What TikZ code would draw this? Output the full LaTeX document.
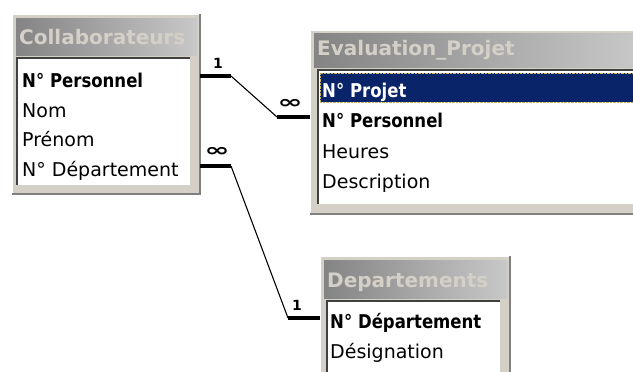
\documentclass[tikz,border=0pt]{standalone}
\usepackage{fontspec}
\setmainfont{DejaVu Sans}[BoldFeatures={FakeStretch=0.87}]
\newfontfamily\titlefam{DejaVu Sans Bold}
\usetikzlibrary{calc}
\definecolor{winface}{HTML}{D4D0C8}
\definecolor{winshadow}{HTML}{808080}
\definecolor{windark}{HTML}{404040}
\definecolor{tbleft}{HTML}{848484}
\definecolor{tbright}{HTML}{C8C8C8}
\definecolor{selnavy}{HTML}{0A246A}
\definecolor{focusyel}{HTML}{C8B464}
\begin{document}
\begin{tikzpicture}[x=1pt,y=-1pt,
  frame/.style={fill=winface, inner sep=0, anchor=north west, outer sep=0},
  titlebar/.style={left color=tbleft, right color=tbright, inner sep=0, anchor=north west, outer sep=0},
  listbox/.style={fill=white, inner sep=0, anchor=north west, outer sep=0},
  titletext/.style={text=winface, font=\fontsize{20}{24}\selectfont\titlefam, inner sep=0, anchor=base west},
  field/.style={text=black, font=\fontsize{19}{22}\selectfont, inner sep=0, anchor=base west},
  keyfield/.style={field, font=\fontsize{19}{22}\selectfont\bfseries},
  hilite/.style={fill=selnavy, draw=focusyel, densely dotted, inner sep=0, anchor=north west, outer sep=0},
  thickend/.style={line width=3.5pt},
  thinlink/.style={line width=1.1pt},
  cardone/.style={font=\fontsize{14}{16}\selectfont\titlefam, inner sep=0},
  cardmany/.style={font=\fontsize{20}{22}\selectfont\titlefam, inner sep=0},
  hiedge/.style={white, line width=1.5pt},
  loedge/.style={winshadow, line width=1.5pt},
  inset/.style={windark, line width=1.2pt}
]
\useasboundingbox (0,0) rectangle (633,372);
\clip (0,0) rectangle (633,372);

% ---------- Collaborateurs ----------
\node[frame, minimum width=188pt, minimum height=180pt] (collab) at (12,14) {};
\draw[hiedge] (collab.south west) -- (collab.north west) -- (collab.north east);
\draw[loedge] (collab.north east) -- (collab.south east) -- (collab.south west);
\node[titlebar, minimum width=181pt, minimum height=37pt] (collabtb) at (16,18) {};
\node[titletext] (collabtitle) at (19,45) {Collaborateurs};
\node[listbox, minimum width=173pt, minimum height=127pt] (collablist) at (17,58) {};
\draw[inset] (collablist.south west) -- (collablist.north west) -- (collablist.north east);
\node[keyfield] (cf1) at (22,87) {N° Personnel};
\node[field] (cf2) at (22,117) {Nom};
\node[field] (cf3) at (22,146) {Prénom};
\node[field] (cf4) at (22,176) {N° Département};

% ---------- Evaluation_Projet ----------
\node[frame, minimum width=330pt, minimum height=184pt] (eval) at (310,30) {};
\draw[hiedge] (eval.south west) -- (eval.north west) -- (eval.north east);
\draw[loedge] (eval.north east) -- (eval.south east) -- (eval.south west);
\node[titlebar, minimum width=326pt, minimum height=34pt] (evaltb) at (314,33) {};
\node[titletext] (evaltitle) at (317,55) {Evaluation\_Projet};
\node[listbox, minimum width=322pt, minimum height=134pt] (evallist) at (318,70) {};
\draw[inset] (evallist.south west) -- (evallist.north west) -- (evallist.north east);
\node[hilite, minimum width=318pt, minimum height=29pt] (evalsel) at (320,73) {};
\node[keyfield, text=white] (ef1) at (322,97) {N° Projet};
\node[keyfield] (ef2) at (322,127) {N° Personnel};
\node[field] (ef3) at (322,158) {Heures};
\node[field] (ef4) at (322,188) {Description};

% ---------- Departements ----------
\node[frame, minimum width=190pt, minimum height=124pt] (dep) at (320,256) {};
\draw[hiedge] (dep.south west) -- (dep.north west) -- (dep.north east);
\draw[loedge] (dep.north east) -- (dep.south east) -- (dep.south west);
\node[titlebar, minimum width=183pt, minimum height=38pt] (deptb) at (324,260) {};
\node[titletext] (deptitle) at (327,287) {Departements};
\node[listbox, minimum width=173pt, minimum height=74pt] (deplist) at (327,301) {};
\draw[inset] (deplist.south west) -- (deplist.north west) -- (deplist.north east);
\node[keyfield] (df1) at (330,328) {N° Département};
\node[field] (df2) at (330,358) {Désignation};

% ---------- Relationships ----------
\coordinate (r1a) at (collab.east |- 0,76);
\coordinate (r1b) at (231,76);
\coordinate (r1c) at (277,117);
\coordinate (r1d) at (eval.west |- 0,117);
\draw[thickend] (r1a) -- (r1b);
\draw[thinlink] (r1b) -- (r1c);
\draw[thickend] (r1c) -- (r1d);
\node[cardone] (r1one) at (218,63) {1};
\node[cardmany] (r1many) at (290,104) {\scalebox{1.5}[0.9]{∞}};

\coordinate (r2a) at (collab.east |- 0,166);
\coordinate (r2b) at (231,166);
\coordinate (r2c) at (288,318);
\coordinate (r2d) at (dep.west |- 0,318);
\draw[thickend] (r2a) -- (r2b);
\draw[thinlink] (r2b) -- (r2c);
\draw[thickend] (r2c) -- (r2d);
\node[cardmany] (r2many) at (217,152) {\scalebox{1.5}[0.9]{∞}};
\node[cardone] (r2one) at (297,305) {1};
\end{tikzpicture}
\end{document}
